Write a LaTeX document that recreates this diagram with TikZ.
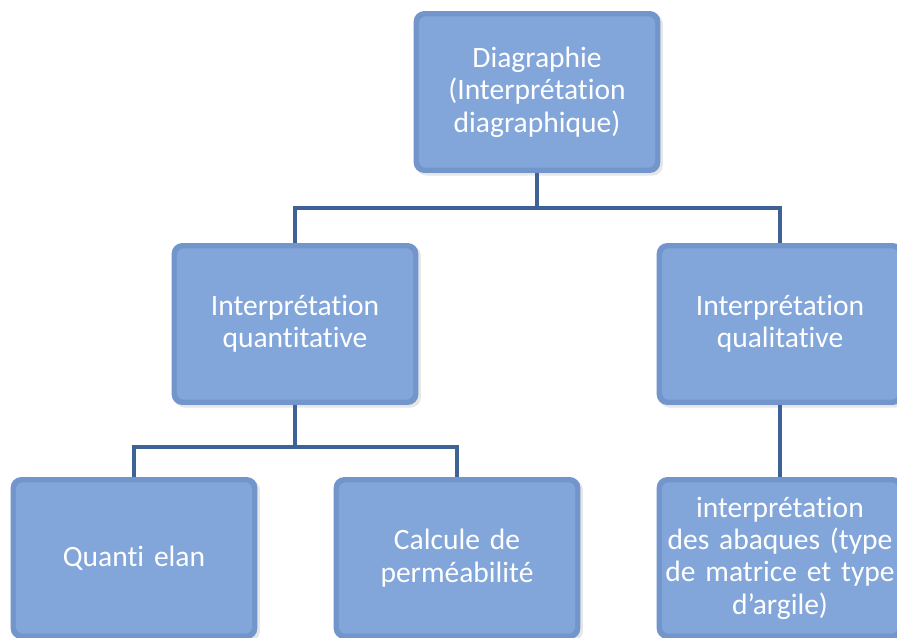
\documentclass[tikz,border=0pt]{standalone}
\usepackage{fontspec}
\setmainfont{Carlito}[Ligatures=NoCommon]
\usetikzlibrary{shadows}
\definecolor{boxface}{RGB}{130,166,217}
\definecolor{boxedge}{RGB}{114,150,204}
\definecolor{linkblue}{RGB}{62,98,150}
\newcommand\boxfont{\fontsize{16.8}{18.4}\selectfont\fontdimen2\font=3.4pt\relax}
\begin{document}
\begin{tikzpicture}[x=0.02cm, y=-0.02cm,
  box/.style={rounded corners=6pt, fill=boxedge, minimum width=4.9cm, minimum height=3.24cm,
    text width=4.7cm, align=center, text=white, font=\boxfont,
    drop shadow={opacity=0.2, shadow xshift=1.5pt, shadow yshift=-1.5pt},
    path picture={\fill[boxface, rounded corners=4pt] ([shift={(3pt,3pt)}]path picture bounding box.south west) rectangle ([shift={(-3pt,-3pt)}]path picture bounding box.north east);}},
  link/.style={linkblue, line width=2.8pt}]
\clip (0,0) rectangle (897,637);
% Boxes
\node[box] (diag) at (537,92) {Diagraphie\\(Interprétation\\diagraphique)};
\node[box] (quanti) at (295,324) {Interprétation\\quantitative};
\node[box] (quali) at (780,324) {Interprétation\\qualitative};
\node[box] (elan) at (134,558) {Quanti elan};
\node[box] (perm) at (457,558) {Calcule de\\perméabilité};
\node[box] (abaq) at (780,558) {interprétation\\des abaques (type\\de matrice et type\\d’argile)};
% Connectors
\coordinate (bar1) at (537,208);
\coordinate (bar2) at (295,447);
\draw[link] (diag.south) -- (bar1);
\draw[link] (quanti.north) |- (bar1) -| (quali.north);
\draw[link] (quanti.south) -- (bar2);
\draw[link] (elan.north) |- (bar2) -| (perm.north);
\draw[link] (quali.south) -- (abaq.north);
\end{tikzpicture}
\end{document}
